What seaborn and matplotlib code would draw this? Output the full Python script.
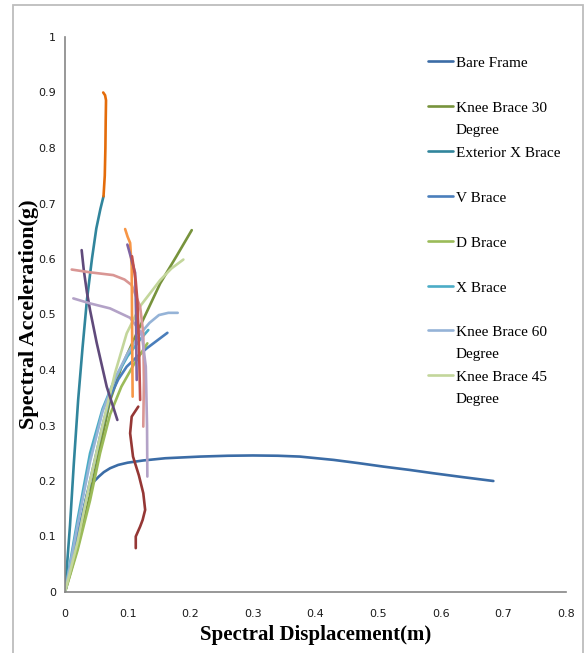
import matplotlib
matplotlib.use("Agg")
import matplotlib.pyplot as plt
import seaborn as sns
from matplotlib.lines import Line2D
from matplotlib.patches import Rectangle

# ---- data (x = spectral displacement m, y = spectral acceleration g)
bare_x = [0, 0.02, 0.036, 0.041, 0.047, 0.054, 0.062, 0.072, 0.085, 0.10, 0.125, 0.16, 0.216,
          0.26, 0.30, 0.34, 0.375, 0.429, 0.47, 0.508, 0.55, 0.588, 0.635, 0.684]
bare_y = [0, 0.10, 0.180, 0.191, 0.200, 0.208, 0.216, 0.223, 0.229, 0.233, 0.237, 0.241, 0.244,
          0.2455, 0.246, 0.2455, 0.244, 0.238, 0.232, 0.226, 0.220, 0.214, 0.207, 0.200]

knee30_x = [0, 0.02, 0.04, 0.056, 0.072, 0.09, 0.1145, 0.152, 0.178, 0.2024]
knee30_y = [0, 0.08, 0.175, 0.262, 0.345, 0.405, 0.466, 0.556, 0.605, 0.652]

extx_x = [0, 0.004, 0.008, 0.014, 0.021, 0.028, 0.035, 0.043, 0.05, 0.0565, 0.0615]
extx_y = [0, 0.06, 0.12, 0.23, 0.346, 0.44, 0.526, 0.60, 0.655, 0.69, 0.713]

vbrace_x = [0, 0.02, 0.04, 0.06, 0.072, 0.085, 0.0985, 0.115, 0.1305, 0.147, 0.1635]
vbrace_y = [0, 0.10, 0.20, 0.30, 0.352, 0.383, 0.406, 0.424, 0.439, 0.453, 0.467]

dbrace_x = [0, 0.02, 0.04, 0.056, 0.072, 0.09, 0.11, 0.1315]
dbrace_y = [0, 0.075, 0.165, 0.25, 0.32, 0.37, 0.41, 0.448]

xbrace_x = [0, 0.02, 0.04, 0.06, 0.08, 0.10, 0.12, 0.133]
xbrace_y = [0, 0.13, 0.25, 0.33, 0.385, 0.425, 0.455, 0.472]

knee60_x = [0, 0.02, 0.04, 0.06, 0.08, 0.10, 0.12, 0.135, 0.15, 0.165, 0.18]
knee60_y = [0, 0.12, 0.235, 0.325, 0.385, 0.43, 0.465, 0.485, 0.499, 0.503, 0.503]

knee45_x = [0, 0.02, 0.04, 0.06, 0.08, 0.0985, 0.12, 0.152, 0.17, 0.189]
knee45_y = [0, 0.09, 0.20, 0.30, 0.395, 0.466, 0.515, 0.562, 0.583, 0.599]

# extra series in the chart that have no legend entry
orange1_x = [0.0615, 0.0635, 0.0645, 0.065, 0.0655, 0.064, 0.061]
orange1_y = [0.713, 0.75, 0.80, 0.85, 0.886, 0.895, 0.90]

purple1_x = [0.0266, 0.03, 0.035, 0.040, 0.0506, 0.0666, 0.0836]
purple1_y = [0.616, 0.58, 0.54, 0.508, 0.449, 0.37, 0.31]

pink_x = [0.0107, 0.04, 0.077, 0.095, 0.1065, 0.12, 0.125, 0.126, 0.125]
pink_y = [0.581, 0.576, 0.571, 0.563, 0.553, 0.514, 0.466, 0.38, 0.298]

lavender_x = [0.0133, 0.04, 0.0719, 0.104, 0.1225, 0.129, 0.131, 0.1315]
lavender_y = [0.529, 0.52, 0.511, 0.494, 0.466, 0.406, 0.30, 0.208]

orange2_x = [0.096, 0.10, 0.104, 0.1065, 0.107, 0.1075, 0.108]
orange2_y = [0.654, 0.64, 0.629, 0.586, 0.50, 0.42, 0.352]

purple2_x = [0.0996, 0.106, 0.112, 0.1135, 0.114, 0.1145]
purple2_y = [0.626, 0.60, 0.575, 0.50, 0.43, 0.382]

red_x = [0.107, 0.113, 0.1155, 0.118, 0.12]
red_y = [0.605, 0.56, 0.526, 0.45, 0.346]

darkred_x = [0.117, 0.1065, 0.104, 0.1086, 0.118, 0.125, 0.128, 0.124, 0.12, 0.113, 0.113]
darkred_y = [0.334, 0.316, 0.286, 0.244, 0.21, 0.178, 0.148, 0.13, 0.118, 0.10, 0.079]

legend_names = ["Bare Frame", "Knee Brace 30\nDegree", "Exterior X Brace", "V Brace",
                "D Brace", "X Brace", "Knee Brace 60\nDegree", "Knee Brace 45\nDegree"]
legend_colors = ["#3B6CA6", "#77933C", "#31859C", "#4A7EBB",
                 "#9BBB59", "#4BACC6", "#95B3D7", "#C3D69B"]
legend_series = [(bare_x, bare_y), (knee30_x, knee30_y), (extx_x, extx_y), (vbrace_x, vbrace_y),
                 (dbrace_x, dbrace_y), (xbrace_x, xbrace_y), (knee60_x, knee60_y), (knee45_x, knee45_y)]

extra_series = [(orange1_x, orange1_y), (purple1_x, purple1_y), (pink_x, pink_y),
                (lavender_x, lavender_y), (orange2_x, orange2_y), (purple2_x, purple2_y),
                (red_x, red_y), (darkred_x, darkred_y)]
extra_colors = ["#E46C0A", "#604A7B", "#D99694", "#B3A2C7", "#F79646", "#8064A2", "#C0504D", "#953735"]

x_ticks = [0, 0.1, 0.2, 0.3, 0.4, 0.5, 0.6, 0.7, 0.8]
x_tick_labels = ["0", "0.1", "0.2", "0.3", "0.4", "0.5", "0.6", "0.7", "0.8"]
y_ticks = [0, 0.1, 0.2, 0.3, 0.4, 0.5, 0.6, 0.7, 0.8, 0.9, 1.0]
y_tick_labels = ["0", "0.1", "0.2", "0.3", "0.4", "0.5", "0.6", "0.7", "0.8", "0.9", "1"]

sns.set_style("white")
plt.rcParams['font.family'] = ['DejaVu Sans']

W, H = 587, 653
fig = plt.figure(figsize=(W / 100, H / 100), dpi=100)
ax = fig.add_axes([65 / W, (H - 592) / H, 501 / W, 555 / H])

for (xs, ys), c in zip(legend_series, legend_colors):
    sns.lineplot(x=xs, y=ys, sort=False, estimator=None, color=c, lw=1.9, ax=ax)
for (xs, ys), c in zip(extra_series, extra_colors):
    sns.lineplot(x=xs, y=ys, sort=False, estimator=None, color=c, lw=1.9, ax=ax)

ax.set_xlim(0, 0.8)
ax.set_ylim(0, 1)
ax.set_xticks(x_ticks)
ax.set_xticklabels(x_tick_labels)
ax.set_yticks(y_ticks)
ax.set_yticklabels(y_tick_labels)
ax.tick_params(axis='both', direction='out', length=4, width=1, color='#868686',
               labelsize=8, labelcolor='#1a1a1a')
ax.tick_params(axis='x', pad=8)
ax.tick_params(axis='y', pad=2.5)
sns.despine(ax=ax)
for s in ['left', 'bottom']:
    ax.spines[s].set_color('#868686')
    ax.spines[s].set_linewidth(1.2)

lab_font = dict(family='Liberation Serif', weight='bold', color='black')
ax.set_xlabel("Spectral Displacement(m)", size=15, **lab_font)
ax.set_ylabel("Spectral Acceleration(g)", size=16, **lab_font)
ax.xaxis.set_label_coords(0.5, -0.06)
ax.yaxis.set_label_coords(-0.052, 0.5)

# legend, drawn like the Excel one (handle on the first line of each entry)
for i, (name, c) in enumerate(zip(legend_names, legend_colors)):
    ypx = 61 + i * 44.9
    fig.add_artist(Line2D([428 / W, 453 / W], [1 - ypx / H, 1 - ypx / H], color=c, lw=1.9))
    for k, line in enumerate(name.split("\n")):
        fig.text(456 / W, 1 - (ypx + 6 + k * 22) / H, line, family='Liberation Serif',
                 size=11, va='baseline', ha='left', color='black')

# outer chart border
fig.add_artist(Rectangle((13 / W, -0.01), (583 - 13) / W, (H - 5) / H + 0.01,
                         transform=fig.transFigure, fill=False, edgecolor='#BDBDBD', lw=1.3))

fig.savefig("out.png", dpi=100)
